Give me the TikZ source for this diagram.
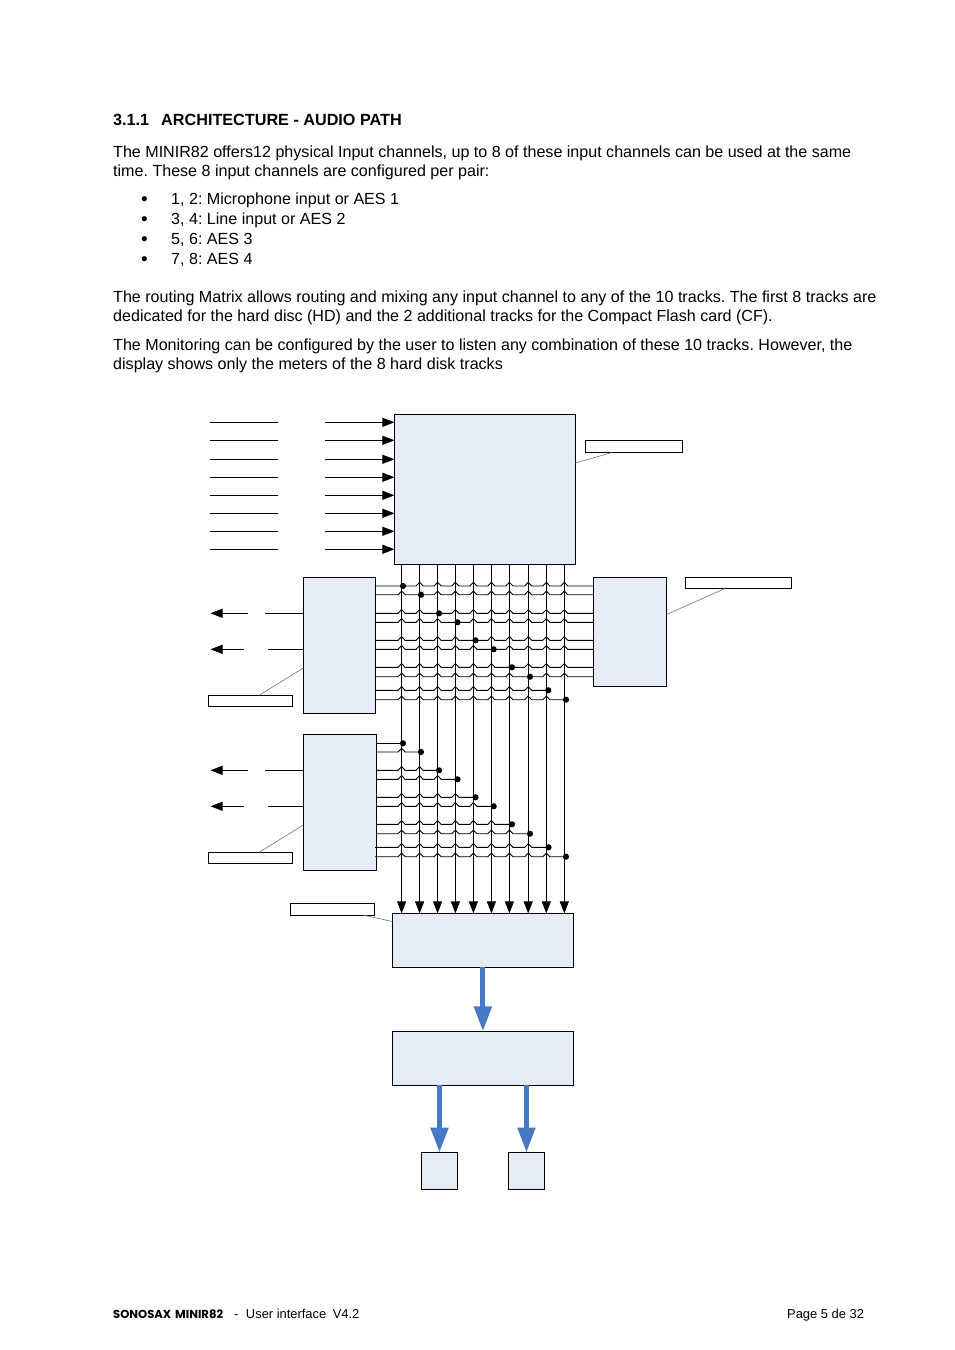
\documentclass[tikz,border=0pt]{standalone}
\usepackage{fontspec}
\setmainfont{Liberation Sans}
\newfontfamily\logofont{Poppins}
\usetikzlibrary{arrows.meta}
\definecolor{boxfill}{HTML}{E6ECF7}
\definecolor{bluearrow}{HTML}{4678C4}
\tikzset{
  x=1pt,y=-1pt,
  body/.style={anchor=base west,inner sep=0pt,font=\fontsize{16.08}{19}\selectfont\frenchspacing},
  small/.style={anchor=base west,inner sep=0pt,font=\fontsize{12.9}{15}\selectfont\frenchspacing},
  rect/.style={rectangle,inner sep=0pt,outer sep=0pt,line width=0.9pt,draw=black},
  blk/.style={rect,fill=boxfill},
  lab/.style={rect,fill=white},
  wire/.style={line width=0.9pt,black},
  arr/.style={wire,-{Triangle[length=12pt,width=9pt]}},
  callout/.style={draw=black!55,line width=0.6pt},
  dotn/.style={circle,fill=black,inner sep=0pt,minimum size=6.2pt},
  thick arrow/.style={line width=5pt,bluearrow,-{Triangle[length=25pt,width=17pt]}}
}
% name, left, top, right, bottom
\newcommand{\boxat}[6]{%
  \pgfmathsetmacro{\bw}{#5-#3}\pgfmathsetmacro{\bh}{#6-#4}%
  \pgfmathsetmacro{\bx}{(#5+#3)/2}\pgfmathsetmacro{\by}{(#6+#4)/2}%
  \node[#1,minimum width=\bw pt,minimum height=\bh pt] (#2) at (\bx,\by) {};}
\newcommand{\hopsrow}[4]{% start x, y, list of columns, end x
  \draw[wire] (#1,#2) foreach \cx in {#3} {
    -- (\cx-3.5,#2) .. controls (\cx-1.5,#2) and (\cx-2.2,#2-3.6) .. (\cx,#2-3.6)
    .. controls (\cx+2.2,#2-3.6) and (\cx+1.5,#2) .. (\cx+3.5,#2)
  } -- (#4,#2);
}
\begin{document}
\begin{tikzpicture}
\useasboundingbox (0,0) rectangle (954,1350);
% text
\node[body,font=\fontsize{16.2}{19}\selectfont\bfseries] (h) at (113,125) {3.1.1\hspace{12pt}ARCHITECTURE - AUDIO PATH};
\node[body] (t1) at (113,157) {The MINIR82 offers12 physical Input channels, up to 8 of these input channels can be used at the same};
\node[body] (t2) at (113,176) {time. These 8 input channels are configured per pair:};
\foreach \yy/\tx [count=\k] in {204/{1, 2: Microphone input or AES 1},224/{3, 4: Line input or AES 2},244/{5, 6: AES 3},264/{7, 8: AES 4}}{
  \node[body,font=\fontsize{19}{19}\selectfont] (bu\k) at (141,\yy+1) {•};
  \node[body] (bt\k) at (171,\yy) {\tx};
}
\node[body] (t3) at (113,302) {The routing Matrix allows routing and mixing any input channel to any of the 10 tracks. The first 8 tracks are};
\node[body] (t4) at (113,321) {dedicated for the hard disc (HD) and the 2 additional tracks for the Compact Flash card (CF).};
\node[body] (t5) at (113,350.5) {The Monitoring can be configured by the user to listen any combination of these 10 tracks. However, the};
\node[body] (t6) at (113,369.5) {display shows only the meters of the 8 hard disk tracks};
\node[small,font=\logofont\bfseries\fontsize{11.6}{14}\selectfont] (f1) at (113,1318) {SONOSAX\hspace{1.5pt} MINIR82};
\node[small] (f2) at (234,1318) {-\hspace{7.5pt}User interface\hspace{6.5pt}V4.2};
\node[small] (f3) at (787,1318) {Page 5 de 32};
% boxes
\boxat{blk}{inbox}{394.4}{414.4}{575.5}{564.5}
\boxat{blk}{luA}{303.3}{577.3}{375.6}{713.3}
\boxat{blk}{rbox}{593.3}{577.3}{666.5}{686.5}
\boxat{blk}{luB}{303.3}{734.3}{376.4}{870.3}
\boxat{blk}{mix}{392.4}{913.4}{573.4}{967.4}
\boxat{blk}{mon}{392.4}{1031.4}{573.4}{1085.4}
\boxat{blk}{sa}{421.5}{1152.5}{457.5}{1189.3}
\boxat{blk}{sb}{508.5}{1152.5}{544.5}{1189.3}
% labels
\boxat{lab}{la}{585.2}{440.5}{682.7}{452.5}
\boxat{lab}{lb}{685.3}{577.3}{791.7}{588.5}
\boxat{lab}{lc}{208.3}{695.4}{292.4}{706.5}
\boxat{lab}{ld}{208.3}{852.4}{292.4}{863.5}
\boxat{lab}{le}{290.4}{903.4}{374.5}{915}
% callouts
\coordinate (ca1) at (inbox.east |- 0,463); \coordinate (cb1) at (612,0 |- la.south);
\coordinate (ca2) at (rbox.east |- 0,614.5); \coordinate (cb2) at (725,0 |- lb.south);
\coordinate (ca3) at (luA.west |- 0,668); \coordinate (cb3) at (259,0 |- lc.north);
\coordinate (ca4) at (luB.west |- 0,825); \coordinate (cb4) at (259,0 |- ld.north);
\coordinate (ca5) at (mix.west |- 0,921.5); \coordinate (cb5) at (363,0 |- le.south);
\foreach \k in {1,...,5}{\draw[callout] (ca\k) -- (cb\k);}
% columns
\foreach \k/\xx in {0/401.6,1/419.6,2/437.6,3/455.4,4/473.4,5/491.4,6/509.4,7/528.2,8/546.3,9/564.3}{
  \coordinate (col\k) at (\xx,0);
  \draw[arr] (inbox.south -| col\k) -- (mix.north -| col\k);
}
% rows
\def\ca{401.6}\def\cb{419.6}\def\cc{437.6}\def\cd{455.4}\def\ce{473.4}\def\cf{491.4}\def\cg{509.4}\def\ch{528.2}\def\ci{546.3}\def\cj{564.3}
\hopsrow{376}{586}{\cb,\cc,\cd,\ce,\cf,\cg,\ch,\ci,\cj}{593}
\hopsrow{376}{594.7}{\ca,\cc,\cd,\ce,\cf,\cg,\ch,\ci,\cj}{593}
\hopsrow{376}{613.3}{\ca,\cb,\cd,\ce,\cf,\cg,\ch,\ci,\cj}{593}
\hopsrow{376}{622.3}{\ca,\cb,\cc,\ce,\cf,\cg,\ch,\ci,\cj}{593}
\hopsrow{376}{640.3}{\ca,\cb,\cc,\cd,\cf,\cg,\ch,\ci,\cj}{593}
\hopsrow{376}{649.3}{\ca,\cb,\cc,\cd,\ce,\cg,\ch,\ci,\cj}{593}
\hopsrow{376}{667.3}{\ca,\cb,\cc,\cd,\ce,\cf,\ch,\ci,\cj}{593}
\hopsrow{376}{676.7}{\ca,\cb,\cc,\cd,\ce,\cf,\cg,\ci,\cj}{593}
\hopsrow{376}{690.3}{\ca,\cb,\cc,\cd,\ce,\cf,\cg,\ch}{548}
\hopsrow{376}{699.7}{\ca,\cb,\cc,\cd,\ce,\cf,\cg,\ch,\ci}{566}
\draw[wire] (377,743.3) -- (403,743.3);
\hopsrow{377}{752}{\ca}{421}
\hopsrow{377}{770.3}{\ca,\cb}{439}
\hopsrow{377}{779.3}{\ca,\cb,\cc}{457.5}
\hopsrow{377}{797.3}{\ca,\cb,\cc,\cd}{475.5}
\hopsrow{377}{806.3}{\ca,\cb,\cc,\cd,\ce}{493.5}
\hopsrow{377}{824.3}{\ca,\cb,\cc,\cd,\ce,\cf}{512}
\hopsrow{377}{833.7}{\ca,\cb,\cc,\cd,\ce,\cf,\cg}{530}
\hopsrow{375}{847.3}{\ca,\cb,\cc,\cd,\ce,\cf,\cg,\ch}{548.5}
\hopsrow{375}{856.7}{\ca,\cb,\cc,\cd,\ce,\cf,\cg,\ch,\ci}{566}
% dots
\foreach \k/\xx/\yy in {1/403/586,2/421/594.7,3/439/613.3,4/457.5/622.3,5/475.5/640.3,6/493.7/649.3,7/512/667.3,8/530/676.7,9/548.3/690.3,10/566/699.7,
  11/403/743.3,12/421/752,13/439/770.3,14/457.5/779.3,15/475.5/797.3,16/493.7/806.3,17/512/824.3,18/530/833.7,19/548.5/847.3,20/566/856.7}{
  \node[dotn] (dot\k) at (\xx,\yy) {};
}
% inputs
\foreach \yy [count=\k] in {422.3,440.3,459.3,477.3,495.3,513.3,531.3,549.3}{
  \coordinate (ia\k) at (210,\yy); \coordinate (ib\k) at (278,\yy);
  \coordinate (ic\k) at (325,\yy);
  \draw[wire] (ia\k) -- (ib\k);
  \draw[arr] (ic\k) -- (ic\k -| inbox.west);
}
% outputs
\foreach \yy/\p/\q/\n [count=\k] in {613.3/248/265/luA,649.3/244/268/luA,770.3/248/265/luB,806.3/244/268/luB}{
  \coordinate (ob\k) at (\q,\yy);
  \coordinate (oc\k) at (\p,\yy); \coordinate (od\k) at (210.5,\yy);
  \draw[wire] (ob\k -| \n.west) -- (ob\k);
  \draw[arr] (oc\k) -- (od\k);
}
% blue arrows
\draw[thick arrow] (mix.south) -- (mon.north);
\draw[thick arrow] (mon.south -| sa.north) -- (sa.north);
\draw[thick arrow] (mon.south -| sb.north) -- (sb.north);
\end{tikzpicture}
\end{document}
